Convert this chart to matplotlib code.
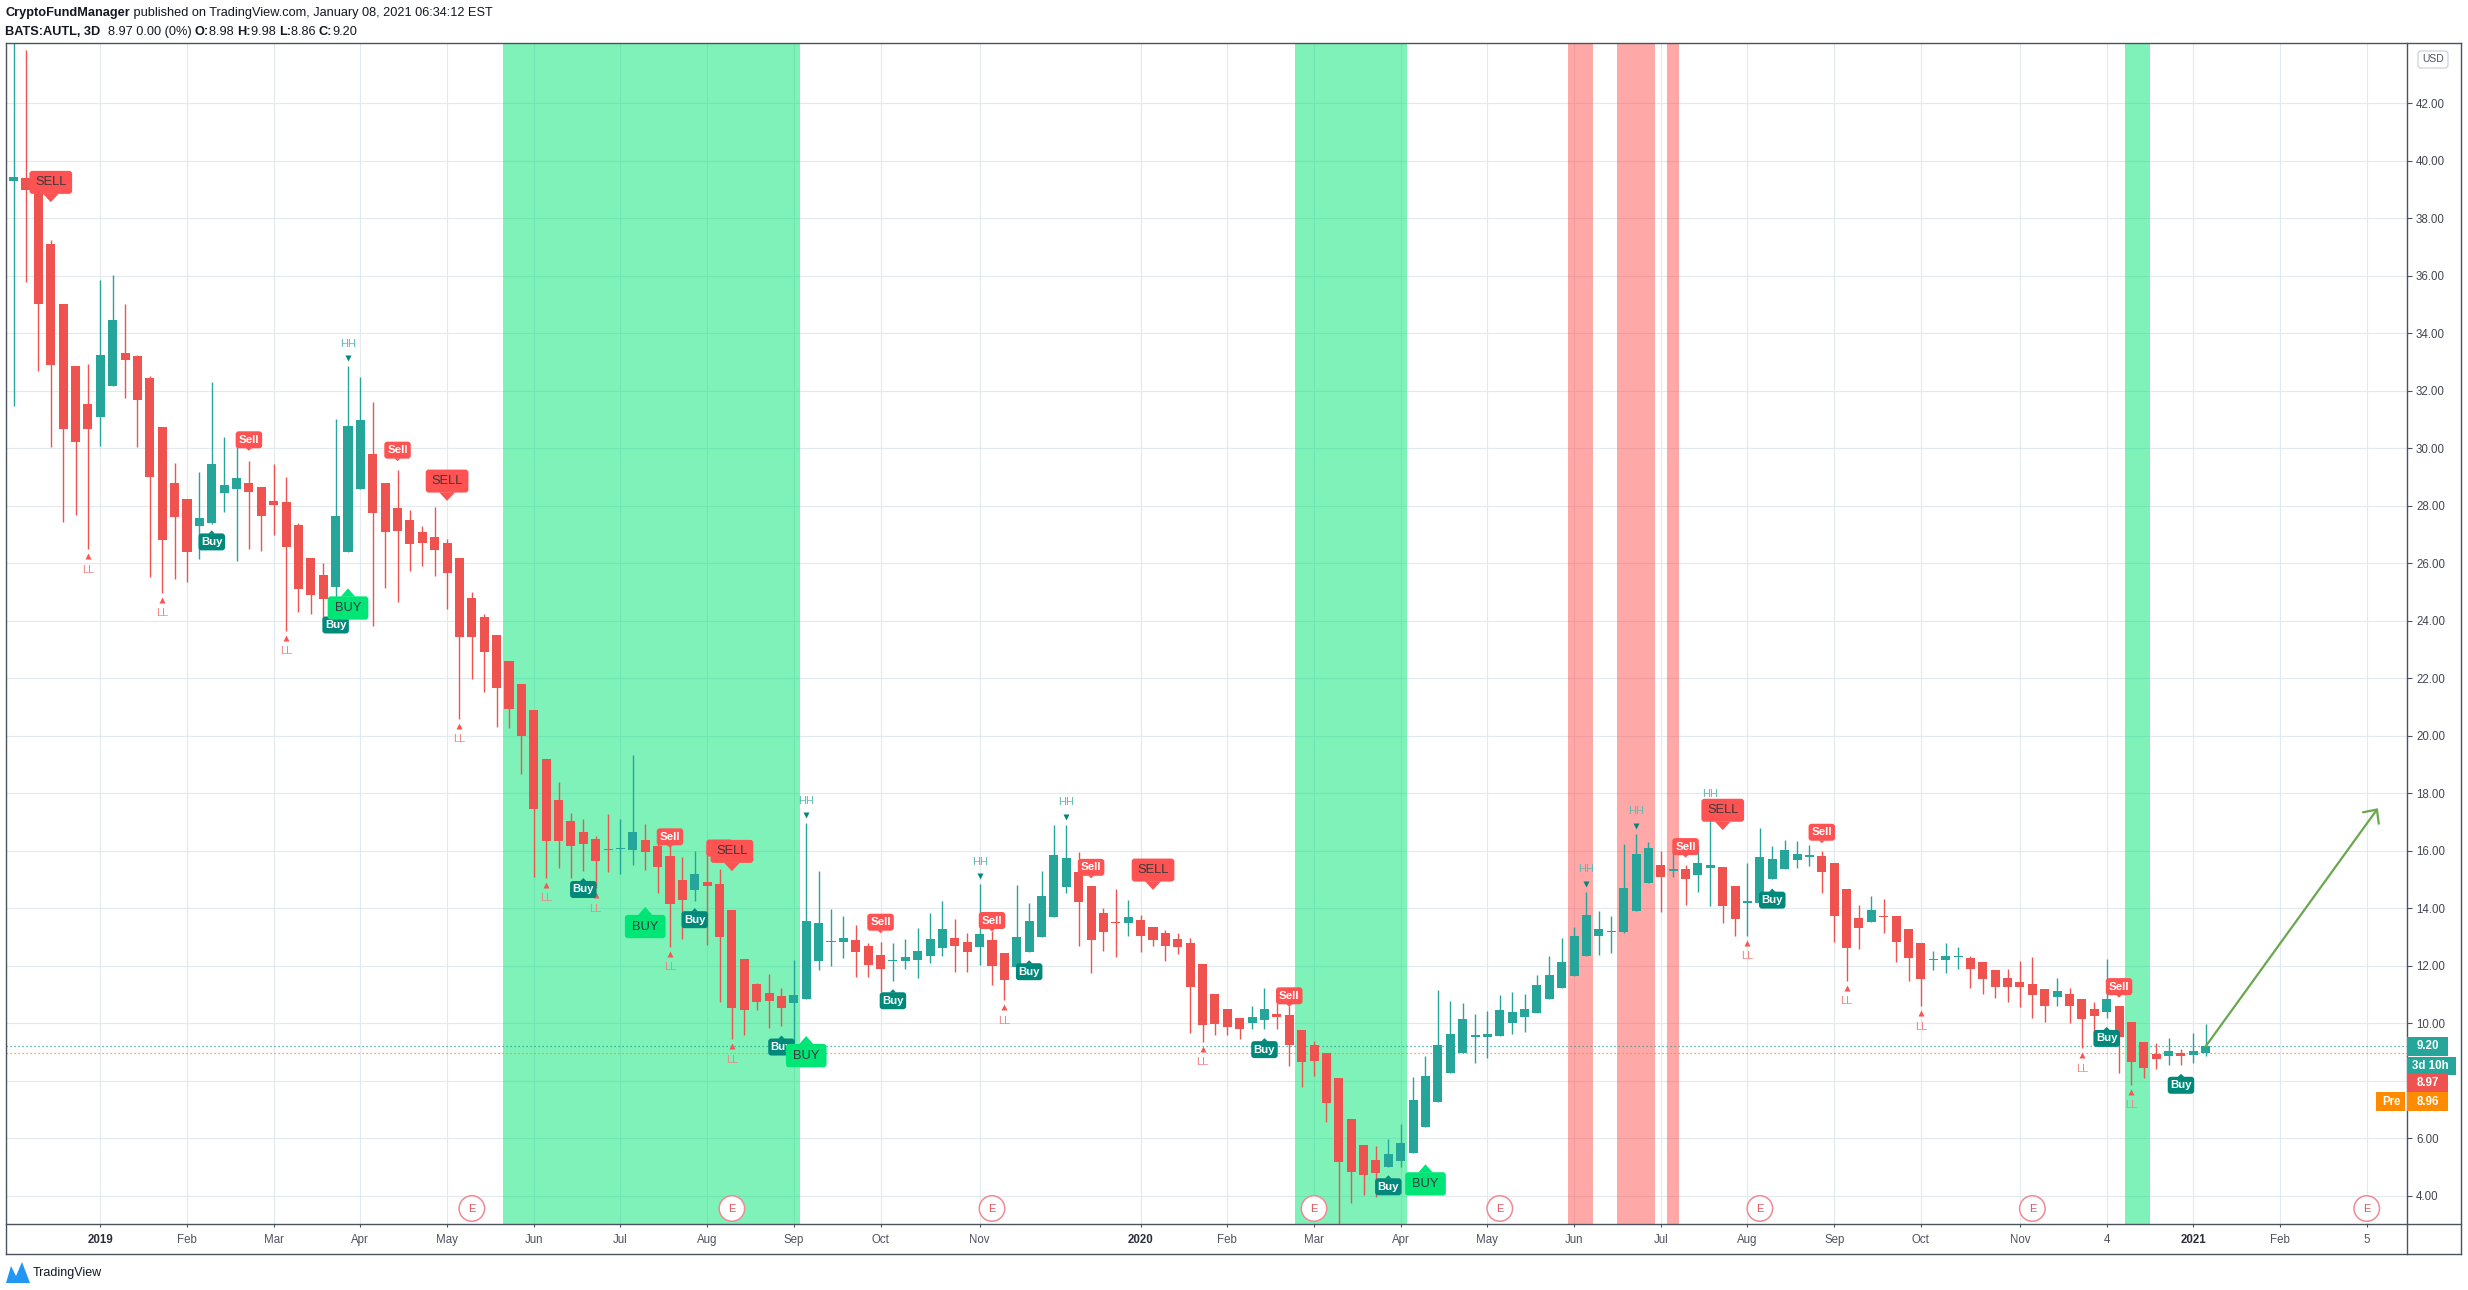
import numpy as np
import matplotlib
matplotlib.use("Agg")
import matplotlib.pyplot as plt
from matplotlib.patches import FancyBboxPatch, Polygon, Ellipse
from matplotlib.lines import Line2D

# ---- 3D candles of BATS:AUTL (bar 0 = first candle) ----
opens = [39.30, 39.41, 38.95, 37.12, 35.02, 32.86, 31.53, 31.10, 32.16, 33.30,
         33.20, 32.44, 30.74, 28.80, 28.24, 27.31, 27.41, 28.45, 28.60, 28.80,
         28.64, 28.17, 28.12, 27.33, 26.20, 25.59, 25.16, 26.41, 28.58, 29.80,
         28.79, 27.92, 27.50, 27.08, 26.91, 26.69, 26.18, 24.79, 24.12, 23.50,
         22.60, 21.79, 20.89, 19.18, 17.76, 17.03, 16.64, 16.40, 16.06, 16.06,
         16.04, 16.39, 16.17, 15.82, 15.00, 14.65, 14.93, 14.85, 13.95, 12.25,
         11.35, 11.05, 10.95, 10.72, 10.86, 12.18, 12.83, 12.84, 12.89, 12.69,
         12.38, 12.16, 12.16, 12.20, 12.35, 12.63, 12.97, 12.83, 12.67, 12.90,
         12.45, 11.97, 12.49, 13.01, 13.71, 14.75, 15.26, 14.78, 13.83, 13.51,
         13.50, 13.58, 13.34, 13.14, 12.93, 12.79, 12.06, 11.02, 10.50, 10.17,
         10.00, 10.10, 10.31, 10.29, 9.77, 9.25, 8.96, 8.09, 6.67, 5.77,
         5.25, 5.01, 5.22, 5.50, 6.41, 7.28, 8.26, 8.96, 9.54, 9.54,
         9.57, 10.02, 10.21, 10.35, 10.83, 11.24, 11.66, 12.35, 13.05, 13.16,
         13.18, 13.92, 14.89, 15.50, 15.30, 15.36, 15.17, 15.39, 15.43, 14.78,
         14.19, 14.20, 15.01, 15.36, 15.67, 15.79, 15.82, 15.57, 14.67, 13.65,
         13.51, 13.73, 13.73, 13.28, 12.78, 12.19, 12.20, 12.30, 12.28, 12.12,
         11.86, 11.57, 11.43, 11.36, 11.18, 10.90, 11.01, 10.83, 10.49, 10.38,
         10.60, 10.06, 9.36, 8.93, 8.86, 8.96, 8.90, 8.98]
highs = [45.00, 43.87, 39.10, 37.23, 35.02, 32.86, 32.93, 35.84, 36.02, 35.02,
         33.24, 32.51, 30.74, 29.50, 28.24, 29.18, 32.31, 30.39, 30.40, 29.55,
         28.64, 29.47, 29.01, 27.40, 26.20, 26.01, 31.02, 32.86, 32.49, 31.61,
         28.79, 29.25, 27.86, 27.30, 27.95, 26.85, 26.18, 24.99, 24.24, 23.50,
         22.60, 21.79, 20.89, 19.18, 18.38, 17.32, 17.10, 16.50, 17.29, 17.09,
         19.34, 16.93, 16.37, 16.20, 15.79, 16.00, 16.20, 15.35, 13.95, 12.25,
         11.39, 11.72, 11.23, 12.20, 16.96, 15.30, 13.98, 13.73, 13.42, 12.78,
         12.84, 12.79, 12.93, 13.30, 13.84, 14.26, 13.64, 13.14, 14.83, 13.22,
         12.45, 14.80, 14.17, 15.30, 16.90, 16.90, 15.96, 14.78, 14.00, 14.67,
         14.29, 13.77, 13.34, 13.25, 13.14, 12.96, 12.06, 11.02, 10.50, 10.17,
         10.60, 11.23, 10.70, 10.60, 9.77, 9.39, 8.96, 8.09, 6.67, 5.77,
         5.73, 5.98, 6.50, 8.12, 8.86, 11.16, 10.79, 10.70, 10.32, 10.44,
         10.99, 11.10, 11.02, 11.68, 12.34, 12.97, 13.36, 14.57, 13.91, 13.74,
         16.24, 16.59, 16.31, 15.99, 16.19, 15.51, 16.21, 17.21, 15.43, 14.78,
         15.57, 16.78, 16.17, 16.38, 16.34, 16.20, 16.01, 15.57, 14.67, 14.10,
         14.43, 14.31, 13.73, 13.28, 12.78, 12.53, 12.78, 12.64, 12.34, 12.12,
         11.86, 11.89, 12.17, 12.30, 11.18, 11.57, 11.24, 10.83, 10.73, 12.23,
         10.60, 10.06, 9.36, 9.30, 9.50, 9.10, 9.68, 9.98]
lows = [31.48, 35.79, 32.69, 30.03, 27.45, 27.68, 26.48, 30.07, 32.16, 31.76,
        30.05, 25.52, 24.98, 25.46, 25.35, 26.14, 27.37, 27.78, 26.08, 26.48,
        26.44, 26.97, 23.65, 24.30, 24.23, 24.00, 24.58, 26.41, 28.58, 23.81,
        25.13, 24.66, 25.72, 25.89, 25.56, 24.40, 20.60, 21.98, 21.51, 20.32,
        20.27, 18.66, 15.09, 15.07, 15.40, 15.04, 15.30, 14.69, 15.27, 15.19,
        15.50, 15.32, 14.53, 12.67, 12.92, 14.27, 12.71, 10.74, 9.45, 9.61,
        10.46, 9.84, 9.92, 9.33, 10.86, 11.86, 12.01, 12.28, 11.62, 11.62,
        11.10, 11.48, 11.90, 11.59, 12.08, 12.35, 11.79, 11.79, 12.04, 11.33,
        10.81, 11.97, 12.49, 13.01, 13.71, 14.52, 12.70, 11.76, 12.53, 12.32,
        13.05, 12.49, 12.69, 12.17, 12.40, 9.68, 9.36, 9.58, 9.58, 9.47,
        9.79, 9.79, 9.79, 8.53, 7.80, 8.18, 6.58, 2.90, 3.76, 4.03,
        3.97, 5.01, 5.01, 5.50, 6.41, 7.28, 8.26, 8.96, 8.61, 8.78,
        9.57, 9.63, 9.71, 10.35, 10.83, 11.24, 11.66, 12.35, 12.38, 12.46,
        13.13, 13.92, 14.89, 13.88, 15.08, 14.12, 14.58, 14.09, 13.48, 13.05,
        13.05, 14.20, 15.01, 15.36, 15.41, 15.48, 14.54, 12.84, 11.48, 12.57,
        13.51, 13.13, 12.12, 11.48, 10.60, 11.86, 11.76, 11.88, 11.24, 11.01,
        10.87, 10.73, 10.56, 10.20, 10.06, 10.61, 10.00, 9.13, 9.59, 10.17,
        8.26, 7.86, 8.11, 8.40, 8.55, 8.55, 8.63, 8.86]
closes = [39.45, 38.98, 35.03, 32.89, 30.68, 30.23, 30.68, 33.26, 34.46, 33.06,
          31.69, 29.01, 26.81, 27.61, 26.39, 27.57, 29.47, 28.74, 28.97, 28.48,
          27.66, 28.04, 26.55, 25.10, 24.90, 24.77, 27.66, 30.77, 31.00, 27.76,
          27.08, 27.11, 26.66, 26.69, 26.48, 25.65, 23.42, 23.42, 22.91, 21.68,
          20.94, 19.98, 17.45, 16.33, 16.33, 16.16, 16.24, 15.66, 16.02, 16.10,
          16.67, 15.97, 15.43, 14.14, 14.30, 15.21, 14.78, 12.99, 10.54, 10.46,
          10.74, 10.77, 10.52, 10.99, 13.55, 13.48, 12.87, 12.96, 12.49, 12.04,
          11.90, 12.20, 12.31, 12.52, 12.93, 13.28, 12.70, 12.49, 13.11, 12.01,
          11.51, 13.00, 13.56, 14.43, 15.86, 15.75, 14.23, 12.90, 13.19, 13.48,
          13.70, 13.05, 12.91, 12.70, 12.67, 11.28, 9.94, 9.98, 9.88, 9.81,
          10.21, 10.49, 10.23, 9.25, 8.67, 8.70, 7.22, 5.19, 4.84, 4.72,
          4.78, 5.46, 5.83, 7.33, 8.17, 9.25, 9.62, 10.14, 9.58, 9.63,
          10.46, 10.39, 10.50, 11.33, 11.68, 12.13, 13.04, 13.77, 13.27, 13.20,
          14.70, 15.88, 16.09, 15.10, 15.38, 15.03, 15.57, 15.50, 14.09, 13.64,
          14.21, 15.77, 15.72, 16.03, 15.88, 15.84, 15.28, 13.74, 12.63, 13.33,
          13.94, 13.69, 12.84, 12.28, 11.55, 12.21, 12.35, 12.33, 11.90, 11.55,
          11.28, 11.28, 11.28, 11.00, 10.61, 11.12, 10.61, 10.14, 10.27, 10.83,
          9.54, 8.67, 8.43, 8.75, 9.05, 8.85, 9.05, 9.20]

last_price = 8.97
pre_price = 8.96
countdown = "3d 10h"

# time axis (bar index of each label)
month_bars = [7, 14, 21, 28, 35, 42, 49, 56, 63, 70, 78, 91, 98, 105, 112, 119,
              126, 133, 140, 147, 154, 162, 169, 176, 183, 190]
month_labels = ["2019", "Feb", "Mar", "Apr", "May", "Jun", "Jul", "Aug", "Sep", "Oct",
                "Nov", "2020", "Feb", "Mar", "Apr", "May", "Jun", "Jul", "Aug", "Sep",
                "Oct", "Nov", "4", "2021", "Feb", "5"]
price_ticks = list(range(4, 43, 2))

# background zones (first bar, last bar)
green_zones = [(40, 63), (104, 112), (171, 172)]
red_zones = [(126, 127), (130, 132), (134, 134)]

# signals: bar index and price level of the label edge next to the bar
small_sell_bars = [19, 31, 53, 57, 70, 79, 87, 103, 135, 146, 170]
small_sell_level = [30.0, 29.64, 16.19, 15.8, 13.22, 13.28, 15.13, 10.66, 15.85, 16.35, 10.98]
small_buy_bars = [16, 26, 46, 55, 62, 71, 82, 101, 111, 142, 169, 175]
small_buy_level = [27.04, 24.15, 14.95, 13.90, 9.47, 11.08, 12.09, 9.38, 4.61, 14.58, 9.77, 8.14]
big_sell_bars = [3, 35, 58, 92, 138]
big_sell_level = [38.85, 28.46, 15.58, 14.93, 17.01]
big_buy_bars = [27, 51, 64, 114]
big_buy_level = [24.85, 13.77, 9.28, 4.82]
hh_bars = [27, 64, 78, 85, 127, 131, 137]
ll_bars = [6, 12, 22, 36, 43, 47, 53, 58, 80, 96, 140, 148, 154, 167, 171]
earnings_bars = [37, 58, 79, 105, 120, 141, 163, 190]

arrow_start = (177, 9.20)
arrow_end = (190.9, 17.48)

# ---- styling / layout ----
W, H, DPI = 2468, 1290, 100
AX_L, AX_R, AX_T, AX_B = 6, 2407, 43, 1224
BAR_PX, UNIT_PX = 12.385, 28.75       # pixels per bar, pixels per dollar
X0_PX, P18_PX = 13.6, 793.3           # pixel x of bar 0, pixel y of 18.00
TEAL, RED = "#26A69A", "#EF5350"
ORANGE = "#FF8C00"
TXT, AXC = "#131722", "#50535E"
FONT = ["Liberation Sans", "DejaVu Sans"]
NARROW = ["Liberation Sans Narrow", "Liberation Sans", "DejaVu Sans"]
plt.rcParams["font.family"] = FONT

fig = plt.figure(figsize=(W / DPI, H / DPI), dpi=DPI)
fig.patch.set_facecolor("white")
ax = fig.add_axes([AX_L / W, 1 - AX_B / H, (AX_R - AX_L) / W, (AX_B - AX_T) / H])
ax.set_xlim((AX_L - X0_PX) / BAR_PX, (AX_R - X0_PX) / BAR_PX)
ax.set_ylim(18 - (AX_B - P18_PX) / UNIT_PX, 18 + (P18_PX - AX_T) / UNIT_PX)
for s in ax.spines.values():
    s.set_visible(False)

ax.set_axisbelow(True)
ax.grid(True, color="#E2EAF0", lw=0.8)
ax.yaxis.tick_right()
ax.set_yticks(price_ticks, ["%.2f" % t for t in price_ticks])
ax.tick_params(axis="y", length=3.5, width=0.8, color=AXC, pad=3, labelsize=8.3,
               labelcolor="#434651")
ax.set_xticks(month_bars, month_labels)
ax.tick_params(axis="x", length=2.5, width=0.8, color=AXC, pad=4.5, labelsize=8.3,
               labelcolor=AXC)
for t in ax.get_xticklabels():
    if t.get_text() in ("2019", "2020", "2021"):
        t.set_fontweight("bold")
        t.set_color("#2A2E39")

# zones
for a, b in green_zones:
    ax.axvspan(a - 0.5, b + 0.5, color="#00E676", alpha=0.5, lw=0, zorder=1)
for a, b in red_zones:
    ax.axvspan(a - 0.5, b + 0.5, color="#FF5252", alpha=0.5, lw=0, zorder=1)

# candles
o, hi, lo, c = map(np.array, (opens, highs, lows, closes))
x = np.arange(len(o))
cols = np.where(c >= o, TEAL, RED)
ax.vlines(x, lo, hi, colors=cols, lw=1.0, zorder=3)
ax.bar(x, np.maximum(np.abs(c - o), 0.05), bottom=np.minimum(o, c), width=0.73,
       color=cols, lw=0, zorder=3.5)

# price lines
ax.axhline(closes[-1], color=TEAL, lw=0.9, ls=(0, (1, 2.2)), zorder=2)
ax.axhline(pre_price, color=ORANGE, lw=0.9, ls=(0, (1, 2.2)), zorder=2)


def tag(xc, level, w_px, h_px, fc, text, tc, fs, weight, ptr_w, ptr_h, down, z, fam):
    w, hh = w_px / BAR_PX, h_px / UNIT_PX
    pw, ph = ptr_w / BAR_PX, ptr_h / UNIT_PX
    if down:
        y0 = level
        tri = [(xc - pw / 2, y0 + 0.01), (xc + pw / 2, y0 + 0.01), (xc, y0 - ph)]
    else:
        y0 = level - hh
        tri = [(xc - pw / 2, level - 0.01), (xc + pw / 2, level - 0.01), (xc, level + ph)]
    ax.add_patch(FancyBboxPatch((xc - w / 2, y0), w, hh,
                                boxstyle="round,pad=0,rounding_size=%f" % (3 / BAR_PX),
                                mutation_aspect=BAR_PX / UNIT_PX, fc=fc, ec="none", zorder=z))
    ax.add_patch(Polygon(tri, closed=True, fc=fc, ec="none", zorder=z))
    ax.text(xc, y0 + hh / 2, text, ha="center", va="center", color=tc, fontsize=fs,
            fontweight=weight, family=fam, zorder=z + 0.1)


for b, lv in zip(small_sell_bars, small_sell_level):
    tag(b, lv, 26.5, 17, "#FF5252", "Sell", "white", 8.2, "bold", 6, 2.5, True, 5, FONT)
for b, lv in zip(small_buy_bars, small_buy_level):
    tag(b, lv, 26.5, 17, "#00897B", "Buy", "white", 8.2, "bold", 6.5, 3, False, 5, FONT)

# higher highs / lower lows
for b in hh_bars:
    ty = highs[b] + 8 / UNIT_PX
    ax.plot(b, ty, marker="v", ms=5, color="#00897B", mec="none", zorder=4.5)
    ax.text(b, ty + 14.5 / UNIT_PX, "HH", ha="center", va="center", fontsize=8,
            color="#5DBAB1", zorder=4.5)
for b in ll_bars:
    ty = lows[b] - 7 / UNIT_PX
    ax.plot(b, ty, marker="^", ms=5, color="#FF5252", mec="none", zorder=4.5)
    ax.text(b, ty - 13.5 / UNIT_PX, "LL", ha="center", va="center", fontsize=8,
            color="#F28585", zorder=4.5)

for b, lv in zip(big_sell_bars, big_sell_level):
    tag(b, lv, 42.7, 23, "#FF5252", "SELL", "#3A3A3A", 9.3, "normal", 16, 8.3, True, 6, NARROW)
for b, lv in zip(big_buy_bars, big_buy_level):
    tag(b, lv, 40.7, 23.3, "#00E676", "BUY", "#3A3A3A", 9.3, "normal", 14.5, 8, False, 6, NARROW)

# earnings markers
ey = 18 - (1208.5 - P18_PX) / UNIT_PX
for b in earnings_bars:
    ax.add_patch(Ellipse((b, ey), 25.5 / BAR_PX, 25.5 / UNIT_PX, fc="white",
                         ec="#F08A92", lw=1.1, zorder=7))
    ax.text(b, ey, "E", ha="center", va="center", fontsize=8, color="#E0525E", zorder=7.1)

# projection arrow
ax.annotate("", xy=arrow_end, xytext=arrow_start, zorder=8,
            arrowprops=dict(arrowstyle="->,head_length=0.75,head_width=0.7",
                            color="#6AA84F", lw=1.6, shrinkA=0, shrinkB=0))

# ---- chrome drawn in pixel coordinates ----
ov = fig.add_axes([0, 0, 1, 1], zorder=10)
ov.set_xlim(0, W)
ov.set_ylim(H, 0)
ov.axis("off")
ov.set_facecolor("none")

borders = [((AX_L, 2461), (AX_T, AX_T)), ((AX_L, 2461), (AX_B, AX_B)),
           ((AX_L, 2461), (1254, 1254)), ((AX_L, AX_L), (AX_T, 1254)),
           ((AX_R, AX_R), (AX_T, 1254)), ((2461, 2461), (AX_T, 1254))]
for xs, ys in borders:
    ov.add_line(Line2D(xs, ys, color="#4C525E", lw=1.0))


def price_px(p):
    return H - ax.transData.transform((0, p))[1]


def pill(x0, yc, w, h, fc, text, tx, ha):
    ov.add_patch(FancyBboxPatch((x0, yc - h / 2), w, h, boxstyle="square,pad=0",
                                fc=fc, ec="none", zorder=11))
    ov.text(tx, yc, text, ha=ha, va="center", color="white", fontsize=8.3,
            fontweight="bold", zorder=12)


y_last = price_px(closes[-1])
pill(AX_R, y_last, 41, 19, TEAL, "%.2f" % closes[-1], 2416.5, "left")
pill(AX_R, y_last + 19.5, 49, 18, TEAL, countdown, 2412, "left")
pill(AX_R, y_last + 37, 41, 18, RED, "%.2f" % last_price, 2416.5, "left")
pill(AX_R, y_last + 55.5, 41, 19, ORANGE, "%.2f" % pre_price, 2416.5, "left")
pill(2376, y_last + 55.5, 29, 19, ORANGE, "Pre", 2391, "center")

ov.add_patch(FancyBboxPatch((2418, 51), 30, 17, boxstyle="round,pad=0,rounding_size=3",
                            fc="white", ec="#C9CCD4", lw=0.8))
ov.text(2433, 59.5, "USD", ha="center", va="center", fontsize=7.5, color=AXC)

# header
renderer = fig.canvas.get_renderer()


def run(xp, yp, pieces):
    for s, bold in pieces:
        t = ov.text(xp, yp, s, ha="left", va="center", fontsize=9.2, color=TXT,
                    fontweight="bold" if bold else "normal")
        xp += t.get_window_extent(renderer).width


run(5.4, 13.3, [("CryptoFundManager", True),
                (" published on TradingView.com, January 08, 2021 06:34:12 EST", False)])
chg = last_price - closes[-1] + (closes[-1] - last_price)
run(5.4, 31.7, [("BATS:AUTL, 3D", True), ("  %.2f %.2f (0%%) " % (last_price, chg), False),
                ("O:", True), ("%.2f " % opens[-1], False), ("H:", True),
                ("%.2f " % highs[-1], False), ("L:", True), ("%.2f " % lows[-1], False),
                ("C:", True), ("%.2f" % closes[-1], False)])

# TradingView footer
ov.add_patch(Polygon([(6, 1283), (11, 1266), (16, 1276), (22, 1262), (30, 1283)],
                     closed=True, fc="#2196F3", ec="none"))
ov.text(33, 1273, "TradingView", ha="left", va="center", fontsize=9, color=TXT)

fig.savefig("out.png", dpi=DPI, facecolor="white")
